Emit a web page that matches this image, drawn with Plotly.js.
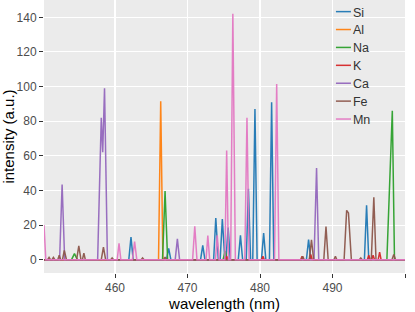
<!DOCTYPE html>
<html>
<head>
<meta charset="utf-8">
<script src="https://cdn.plot.ly/plotly-3.0.1.min.js"></script>
<style>html,body{margin:0;padding:0;background:#fff;}#chart{width:415px;height:312px;}</style>
</head>
<body>
<div id="chart"></div>
<script>
// Spectra as polyline vertices (wavelength nm, intensity a.u.)
const siX = [450.2, 461.9,462.2,462.5, 467.1,467.4,467.7, 471.8,472.1,472.4, 473.6,473.9,474.25, 474.5,474.8,475.15, 475.3,475.6,475.9, 477.0,477.3,477.6, 478.1,478.4,478.7, 479.0,479.3,479.6, 480.2,480.5,480.8, 481.3,481.6,481.9, 486.4,486.7,487.0, 494.4,494.7,495.0, 500];
const siY = [0, 0,13,0, 0,6.5,0, 0,8.3,0, 0,24,0, 0,23.5,0, 0,18.5,0, 0,14,0, 0,41,0, 0,87,0, 0,15.4,0, 0,91,0, 0,11.6,0, 0,31.4,0, 0];

const alX = [450.2, 466.0,466.3,466.6, 500];
const alY = [0, 0,91.5,0, 0];

const naX = [450.2, 454.0,454.4,454.8, 466.55,466.9,467.25, 474.9,475.2,475.5, 497.5,498.25,498.55, 500];
const naY = [0, 0,3.5,0, 0,39.6,0, 0,5,0, 0,86,0, 0];

const kX = [450.2, 475.2,475.4,475.6, 480.2,480.4,480.6, 485.6,485.8,486.0, 486.8,487.0,487.2, 494.8,495.0,495.2, 495.4,495.6,495.8, 496.3,496.5,496.7, 500];
const kY = [0, 0,2,0, 0,2,0, 0,2,0, 0,3,0, 0,2.5,0, 0,2.5,0, 0,4.4,0, 0];

const caX = [450.2, 452.35,452.7,453.05, 457.6,458.1,458.3,458.55,458.95, 468.3,468.6,468.9, 487.45,487.8,488.1, 500];
const caY = [0, 0,43.4,0, 0,82,62,99,0, 0,12,0, 0,53,0, 0];

const feX = [450.2, 450.7,450.9,451.1, 451.3,451.5,451.7, 452.1,452.3,452.5, 452.75,453.0,453.3, 454.7,455.0,455.3, 455.5,455.7,455.9, 458.1,458.4,458.7, 459.4,459.6,459.8, 463.6,463.8,464.0, 466.7,466.9,467.1, 485.7,485.9,486.1, 486.8,487.1,487.4, 488.8,489.1,489.4, 490.2,490.4,490.6, 491.6,491.95,492.2,492.6, 493.7,493.9,494.1, 495.35,495.7,496.0, 498.2,498.45,498.7, 500];
const feY = [0, 0,1.3,0, 0,1.3,0, 0,2.5,0, 0,5.4,0, 0,7.9,0, 0,3.8,0, 0,7.3,0, 0,1,0, 0,1,0, 0,1.5,0, 0,2,0, 0,11.5,0, 0,19.2,0, 0,2,0, 0,28.5,27,0, 0,1,0, 0,36,0, 0,3,0, 0];

const mnX = [450.2, 450.45, 460.3,460.55,460.8, 462.4,462.7,463.0, 470.7,471.0,471.3, 472.55,472.8,473.05, 473.85,474.1,474.35, 475.15,475.4,475.65, 475.95,476.25,476.6, 477.9,478.2,478.5, 482.0,482.3,482.6, 500];
const mnY = [20, 0, 0,9.5,0, 0,10.5,0, 0,19.3,0, 0,13.9,0, 0,14,0, 0,63,0, 0,142,0, 0,82,0, 0,101.5,0, 0];

const names = ['Si','Al','Na','K','Ca','Fe','Mn'];
const colors = ['#1f77b4','#ff7f0e','#2ca02c','#d62728','#9467bd','#8c564b','#e377c2'];
const xs = [siX, alX, naX, kX, caX, feX, mnX];
const ys = [siY, alY, naY, kY, caY, feY, mnY];

const xTicks = [460, 470, 480, 490, 500];
const xTickText = ['460', '470', '480', '490', ''];
const yTicks = [0, 20, 40, 60, 80, 100, 120, 140];

const traces = names.map((n, i) => ({
  type: 'scatter', mode: 'lines', name: n,
  x: xs[i], y: ys[i],
  line: {color: colors[i], width: 1.5},
  opacity: 0.95
}));

const ff = '"Liberation Sans", Arial, sans-serif';
const layout = {
  width: 415, height: 312,
  margin: {l: 44, r: 10, t: 0, b: 39, pad: 0},
  paper_bgcolor: '#ffffff',
  plot_bgcolor: '#ebebeb',
  font: {family: ff, size: 12, color: '#4d4d4d'},
  showlegend: true,
  legend: {
    x: 0.745, xanchor: 'left', y: 1.0, yanchor: 'top',
    bgcolor: 'rgba(0,0,0,0)', borderwidth: 0,
    font: {family: ff, size: 12.5, color: '#333333'},
    tracegroupgap: 0
  },
  xaxis: {
    range: [450.2, 500], tickmode: 'array', tickvals: xTicks, ticktext: xTickText,
    showgrid: true, gridcolor: '#ffffff', gridwidth: 1.1, zeroline: false,
    ticks: 'outside', ticklen: 4, tickcolor: '#333333', tickwidth: 1,
    tickfont: {family: ff, size: 12, color: '#4d4d4d'},
    showline: false,
    title: {text: 'wavelength (nm)', font: {family: ff, size: 15, color: '#000000'}, standoff: 4},
    automargin: false
  },
  yaxis: {
    range: [-7.7, 150], tickmode: 'array', tickvals: yTicks, ticktext: yTicks.map(String),
    showgrid: true, gridcolor: '#ffffff', gridwidth: 1.1, zeroline: false,
    ticks: 'outside', ticklen: 4, tickcolor: '#333333', tickwidth: 1,
    tickfont: {family: ff, size: 12, color: '#4d4d4d'},
    showline: false,
    title: {text: 'intensity (a.u.)', font: {family: ff, size: 15, color: '#000000'}, standoff: 4},
    automargin: false
  }
};

Plotly.newPlot('chart', traces, layout, {staticPlot: true, displayModeBar: false}).then(function(gd){
  // shorten legend line samples and tighten entry spacing to match the reference key
  gd.querySelectorAll('.legend .legendlines path').forEach(function(p){ p.setAttribute('d', 'M23,0h15'); });
  const items = gd.querySelectorAll('.legend .traces');
  if (items.length) {
    const m = /translate\(\s*([-\d.]+)[ ,]+([-\d.]+)\s*\)/.exec(items[0].getAttribute('transform') || '');
    if (m) {
      const x0 = parseFloat(m[1]), y0 = parseFloat(m[2]) - 3;
      items.forEach(function(it, i){ it.setAttribute('transform', 'translate(' + x0 + ',' + (y0 + 17.9 * i) + ')'); });
    }
  }
});
</script>
</body>
</html>
